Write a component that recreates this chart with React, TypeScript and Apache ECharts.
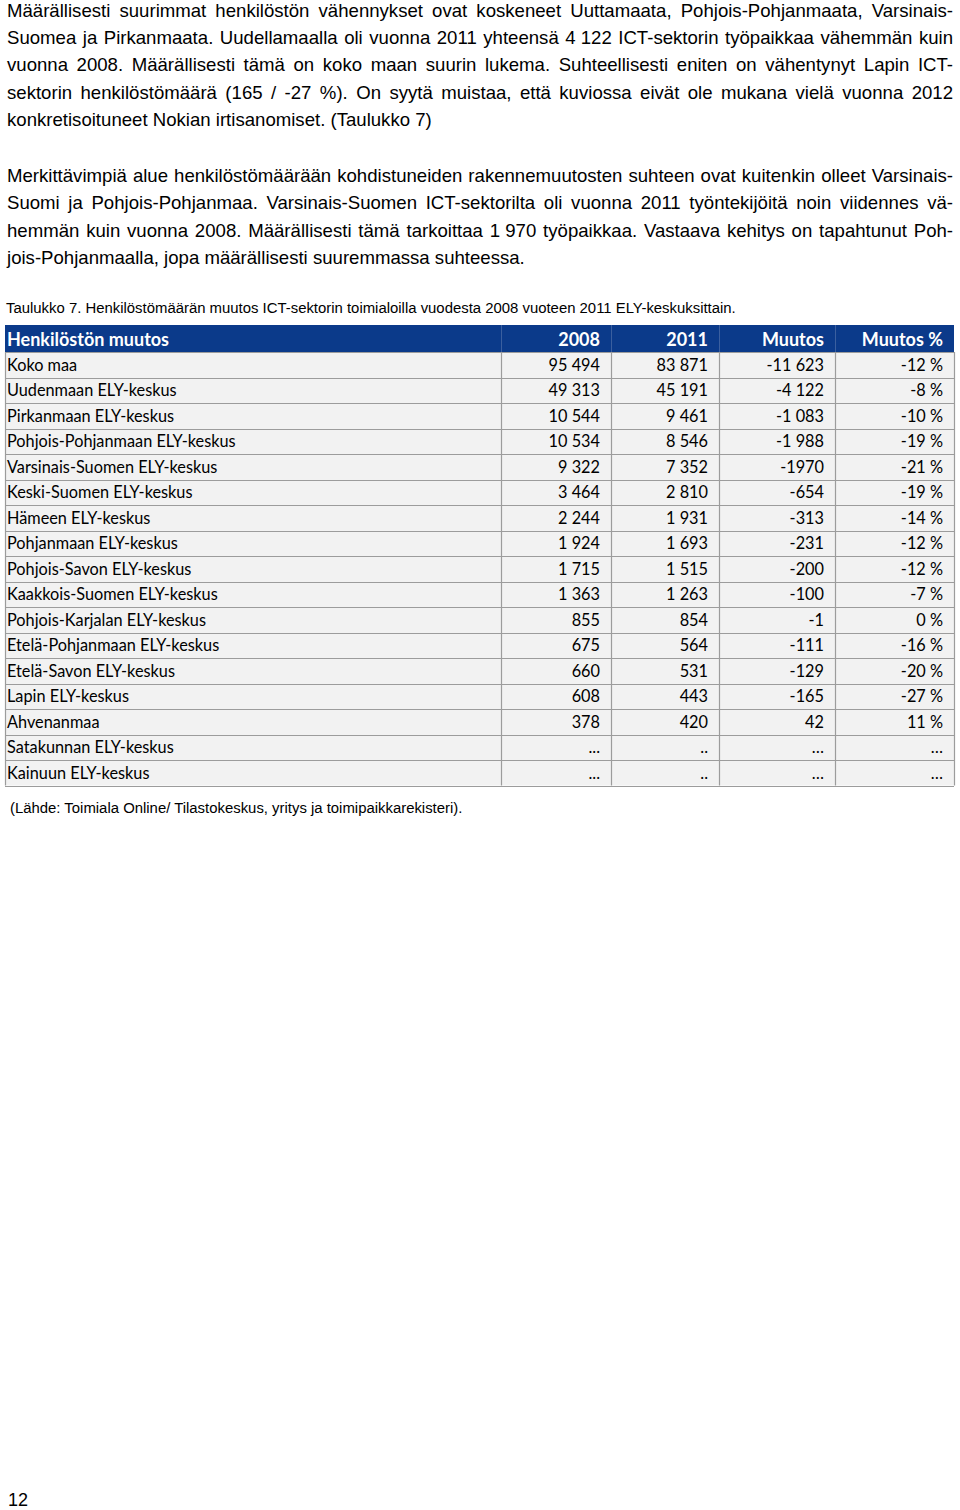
import React, { useEffect, useRef } from "react";
import * as echarts from "echarts";

const para1: string[] = [
  "Määrällisesti suurimmat henkilöstön vähennykset ovat koskeneet Uuttamaata, Pohjois-Pohjanmaata, Varsinais-",
  "Suomea ja Pirkanmaata. Uudellamaalla oli vuonna 2011 yhteensä 4\u00a0122 ICT-sektorin työpaikkaa vähemmän kuin",
  "vuonna 2008. Määrällisesti tämä on koko maan suurin lukema. Suhteellisesti eniten on vähentynyt Lapin ICT-",
  "sektorin henkilöstömäärä (165 / -27 %). On syytä muistaa, että kuviossa eivät ole mukana vielä vuonna 2012",
  "konkretisoituneet Nokian irtisanomiset. (Taulukko 7)",
];
const para2: string[] = [
  "Merkittävimpiä alue henkilöstömäärään kohdistuneiden rakennemuutosten suhteen ovat kuitenkin olleet Varsinais-",
  "Suomi ja Pohjois-Pohjanmaa. Varsinais-Suomen ICT-sektorilta oli vuonna 2011 työntekijöitä noin viidennes vä-",
  "hemmän kuin vuonna 2008. Määrällisesti tämä tarkoittaa 1\u00a0970 työpaikkaa. Vastaava kehitys on tapahtunut Poh-",
  "jois-Pohjanmaalla, jopa määrällisesti suuremmassa suhteessa.",
];
const caption = "Taulukko 7. Henkilöstömäärän muutos ICT-sektorin toimialoilla vuodesta 2008 vuoteen 2011 ELY-keskuksittain.";
const source = "(Lähde: Toimiala Online/ Tilastokeskus, yritys ja toimipaikkarekisteri).";
const pageNumber = "12";

const headers: string[] = ["Henkilöstön muutos", "2008", "2011", "Muutos", "Muutos %"];
const regions: string[] = [
  "Koko maa",
  "Uudenmaan ELY-keskus",
  "Pirkanmaan ELY-keskus",
  "Pohjois-Pohjanmaan ELY-keskus",
  "Varsinais-Suomen ELY-keskus",
  "Keski-Suomen ELY-keskus",
  "Hämeen ELY-keskus",
  "Pohjanmaan ELY-keskus",
  "Pohjois-Savon ELY-keskus",
  "Kaakkois-Suomen ELY-keskus",
  "Pohjois-Karjalan ELY-keskus",
  "Etelä-Pohjanmaan ELY-keskus",
  "Etelä-Savon ELY-keskus",
  "Lapin ELY-keskus",
  "Ahvenanmaa",
  "Satakunnan ELY-keskus",
  "Kainuun ELY-keskus",
];
const values2008: string[] = ["95 494", "49 313", "10 544", "10 534", "9 322", "3 464", "2 244", "1 924", "1 715", "1 363", "855", "675", "660", "608", "378", "...", "..."];
const values2011: string[] = ["83 871", "45 191", "9 461", "8 546", "7 352", "2 810", "1 931", "1 693", "1 515", "1 263", "854", "564", "531", "443", "420", "..", ".."];
const changes: string[] = ["-11 623", "-4 122", "-1 083", "-1 988", "-1970", "-654", "-313", "-231", "-200", "-100", "-1", "-111", "-129", "-165", "42", "…", "…"];
const changePct: string[] = ["-12 %", "-8 %", "-10 %", "-19 %", "-21 %", "-19 %", "-14 %", "-12 %", "-12 %", "-7 %", "0 %", "-16 %", "-20 %", "-27 %", "11 %", "…", "…"];

const BODY_FONT = "Liberation Sans";
const TABLE_FONT = "Lato";

export default function App() {
  const ref = useRef<HTMLDivElement>(null);
  useEffect(() => {
    if (!ref.current) return;
    const chart = echarts.init(ref.current, undefined, { renderer: "svg" });
    const canvas = document.createElement("canvas");
    const ctx = canvas.getContext("2d")!;
    const measure = (t: string, fs: number, fam: string, weight = "normal") => {
      ctx.font = `${weight} ${fs}px "${fam}"`;
      return ctx.measureText(t).width;
    };

    const bodyFs = 18.6;
    const X0 = 7;
    const X1 = 953;
    const els: any[] = [];

    const addLine = (line: string, y: number, justify: boolean) => {
      if (!justify) {
        els.push({
          type: "text", x: X0, y,
          style: { text: line, fontFamily: BODY_FONT, fontSize: bodyFs, fill: "#000", verticalAlign: "middle", align: "left" },
        });
        return;
      }
      const words = line.split(" ");
      const widths = words.map((w) => measure(w, bodyFs, BODY_FONT));
      const sum = widths.reduce((a, b) => a + b, 0);
      const gap = (X1 - X0 - sum) / (words.length - 1);
      let x = X0;
      words.forEach((w, i) => {
        els.push({
          type: "text", x, y,
          style: { text: w, fontFamily: BODY_FONT, fontSize: bodyFs, fill: "#000", verticalAlign: "middle", align: "left" },
        });
        x += widths[i] + gap;
      });
    };

    const p1y = [10, 37, 64, 92, 119];
    para1.forEach((l, i) => addLine(l, p1y[i], i < para1.length - 1));
    const p2y = [175, 202, 230, 257];
    para2.forEach((l, i) => addLine(l, p2y[i], i < para2.length - 1));

    els.push({
      type: "text", x: 6, y: 308,
      style: { text: caption, fontFamily: BODY_FONT, fontSize: 14.9, fill: "#000", verticalAlign: "middle" },
    });

    // table
    const colEdges = [5, 501, 611, 719, 835, 954];
    const headTop = 325;
    const headBottom = 352;
    const rowH = 25.5;
    const tableFs = 16.3;
    const rows = regions.map((r, i) => [r, values2008[i], values2011[i], changes[i], changePct[i]]);
    const tableBottom = headBottom + rowH * rows.length;

    els.push({
      type: "rect", shape: { x: colEdges[0], y: headTop, width: colEdges[5] - colEdges[0], height: headBottom - headTop },
      style: { fill: "#0b3a8a" },
    });
    els.push({
      type: "rect", shape: { x: colEdges[0], y: headBottom, width: colEdges[5] - colEdges[0], height: tableBottom - headBottom },
      style: { fill: "#f2f2f2" },
    });
    for (let c = 1; c < 5; c++) {
      els.push({
        type: "line", shape: { x1: colEdges[c] + 0.5, y1: headTop, x2: colEdges[c] + 0.5, y2: headBottom },
        style: { stroke: "#3b5f9f", lineWidth: 1 },
      });
    }
    for (let r = 0; r <= rows.length; r++) {
      const y = Math.round(headBottom + r * rowH) + 0.5;
      els.push({
        type: "line", shape: { x1: colEdges[0], y1: y, x2: colEdges[5], y2: y },
        style: { stroke: "#9c9c9c", lineWidth: 1.2 },
      });
    }
    for (let c = 0; c <= 5; c++) {
      els.push({
        type: "line", shape: { x1: colEdges[c] + 0.5, y1: headBottom, x2: colEdges[c] + 0.5, y2: tableBottom },
        style: { stroke: "#9c9c9c", lineWidth: 1.2 },
      });
    }
    headers.forEach((h, c) => {
      const left = c === 0;
      els.push({
        type: "text", x: left ? colEdges[0] + 2 : colEdges[c + 1] - 11, y: (headTop + headBottom) / 2,
        style: {
          text: h, fontFamily: TABLE_FONT, fontWeight: "bold", fontSize: 18, fill: "#fff",
          verticalAlign: "middle", align: left ? "left" : "right",
        },
      });
    });
    rows.forEach((row, r) => {
      const yc = headBottom + r * rowH + rowH / 2 - 0.5;
      row.forEach((cell, c) => {
        const left = c === 0;
        els.push({
          type: "text", x: left ? colEdges[0] + 2 : colEdges[c + 1] - 11, y: yc,
          style: {
            text: cell, fontFamily: TABLE_FONT, fontSize: tableFs, fill: "#000",
            verticalAlign: "middle", align: left ? "left" : "right",
          },
        });
      });
    });

    els.push({
      type: "text", x: 10, y: 808,
      style: { text: source, fontFamily: BODY_FONT, fontSize: 14.9, fill: "#000", verticalAlign: "middle" },
    });
    els.push({
      type: "text", x: 8, y: 1500,
      style: { text: pageNumber, fontFamily: BODY_FONT, fontSize: 18, fill: "#000", verticalAlign: "middle" },
    });

    chart.setOption({ animation: false, backgroundColor: "#fff", graphic: { elements: els } });
    return () => chart.dispose();
  }, []);
  return <div ref={ref} style={{ position: "absolute", left: 0, top: 0, width: 960, height: 1510 }} />;
}
